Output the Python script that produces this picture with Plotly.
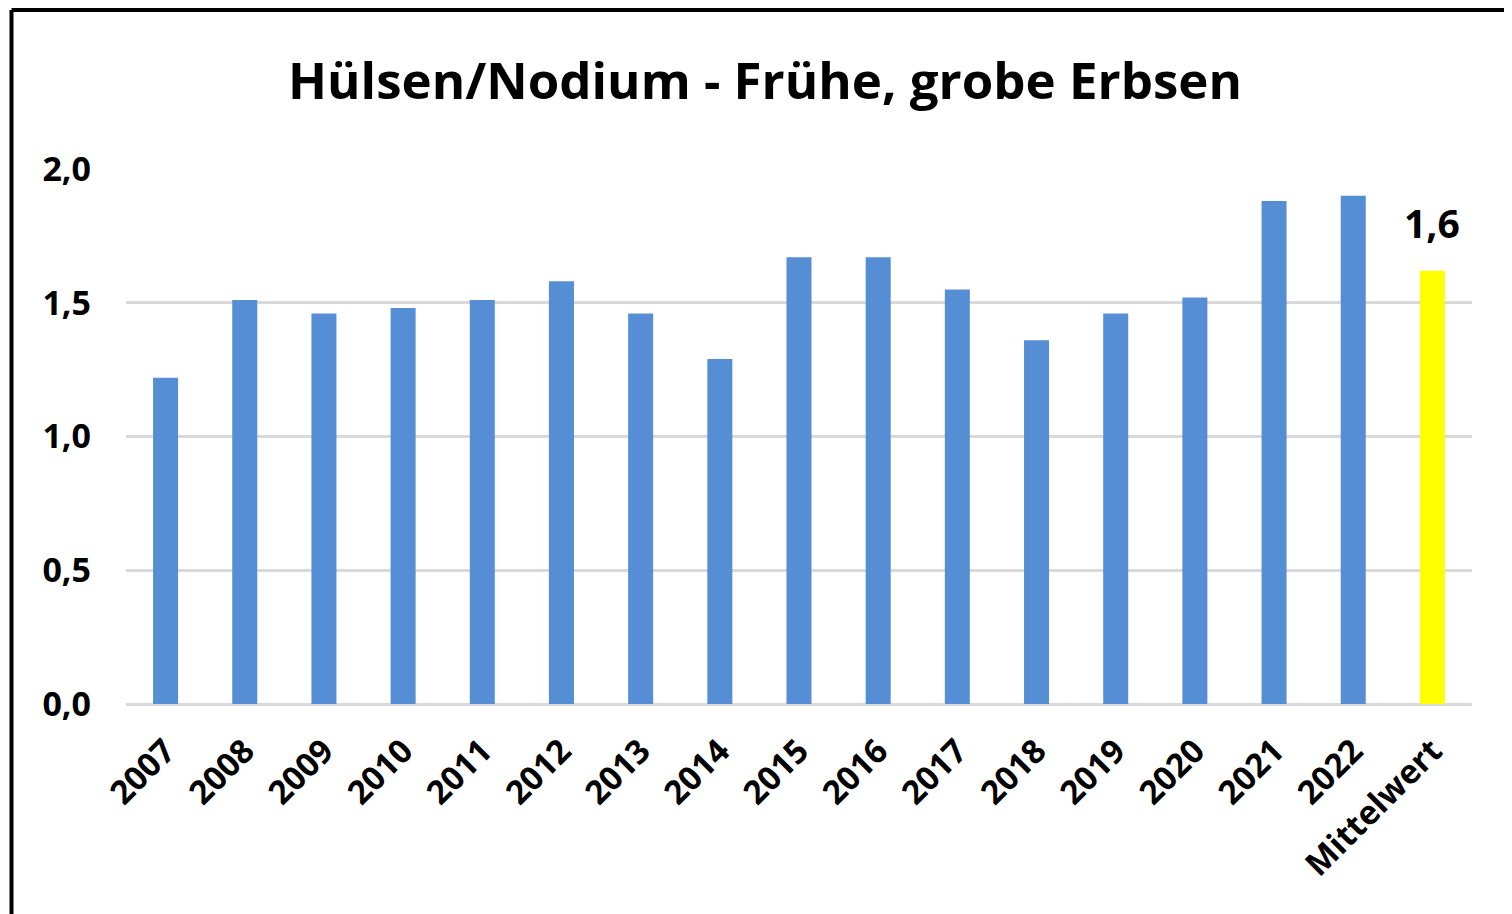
import plotly.graph_objects as go

categories = ["2007", "2008", "2009", "2010", "2011", "2012", "2013", "2014",
              "2015", "2016", "2017", "2018", "2019", "2020", "2021", "2022",
              "Mittelwert"]
values = [1.22, 1.51, 1.46, 1.48, 1.51, 1.58, 1.46, 1.29,
          1.67, 1.67, 1.55, 1.36, 1.46, 1.52, 1.88, 1.90,
          1.62]
mean_label = "1,6"
y_ticks = [0, 0.5, 1.0, 1.5, 2.0]
y_tick_labels = ["0,0", "0,5", "1,0", "1,5", "2,0"]
title_text = "Hülsen/Nodium - Frühe, grobe Erbsen"

BLUE = "#558ED5"
YELLOW = "#FFFF00"
colors = [YELLOW if c == "Mittelwert" else BLUE for c in categories]

# page body has an 8px margin; figure coordinates are screen minus 8
OFF = 8
W, H = 1504, 906
ML, MR, MT, MB = 118, 40, 161, 210
pw = W - ML - MR
ph = H - MT - MB

def px_x(p):
    return (p - OFF - ML) / pw

def px_y(p):
    return (H - MB - (p - OFF)) / ph

FONT = "Open Sans"

fig = go.Figure(go.Bar(
    x=categories, y=values, marker=dict(color=colors, line=dict(width=0)),
    hoverinfo="x+y",
))

fig.update_layout(
    width=W, height=H,
    margin=dict(l=ML, r=MR, t=MT, b=MB, pad=0),
    paper_bgcolor="white", plot_bgcolor="white",
    bargap=0.684,
    showlegend=False,
    font=dict(family=FONT, color="#000000"),
    title=dict(text="<b>" + title_text + "</b>", x=(765 - OFF) / W, xanchor="center",
               y=1 - (81 - OFF) / H, yanchor="middle", yref="container",
               font=dict(size=51, family=FONT, color="#000000")),
    xaxis=dict(type="category", tickangle=-45, showgrid=False, showline=False,
               zeroline=False, ticks="", range=[-0.5, len(categories) - 0.5],
               tickvals=categories, ticktext=["<b>" + c + "</b>" for c in categories],
               tickfont=dict(size=33, family=FONT, color="#000000"),
               ticklabelstandoff=20),
    yaxis=dict(range=[0, 2.0], tickvals=y_ticks, ticktext=["<b>" + t + "</b>" for t in y_tick_labels],
               showgrid=True, gridcolor="#D9D9D9", gridwidth=3,
               zeroline=True, zerolinecolor="#D9D9D9", zerolinewidth=3,
               showline=False, ticks="",
               tickfont=dict(size=34, family=FONT, color="#000000"),
               ticklabelstandoff=34),
)

fig.add_annotation(x=categories[-1], y=values[-1], text="<b>" + mean_label + "</b>",
                   showarrow=False, yanchor="bottom", yshift=20,
                   font=dict(size=39, family=FONT, color="#000000"))

# outer frame (left and top edges visible)
fig.add_shape(type="line", xref="paper", yref="paper",
              x0=px_x(11.5), x1=px_x(11.5), y0=px_y(10), y1=px_y(940),
              line=dict(color="black", width=4))
fig.add_shape(type="line", xref="paper", yref="paper",
              x0=px_x(11.5), x1=px_x(1540), y0=px_y(10), y1=px_y(10),
              line=dict(color="black", width=4))

fig.write_html("out.html")
